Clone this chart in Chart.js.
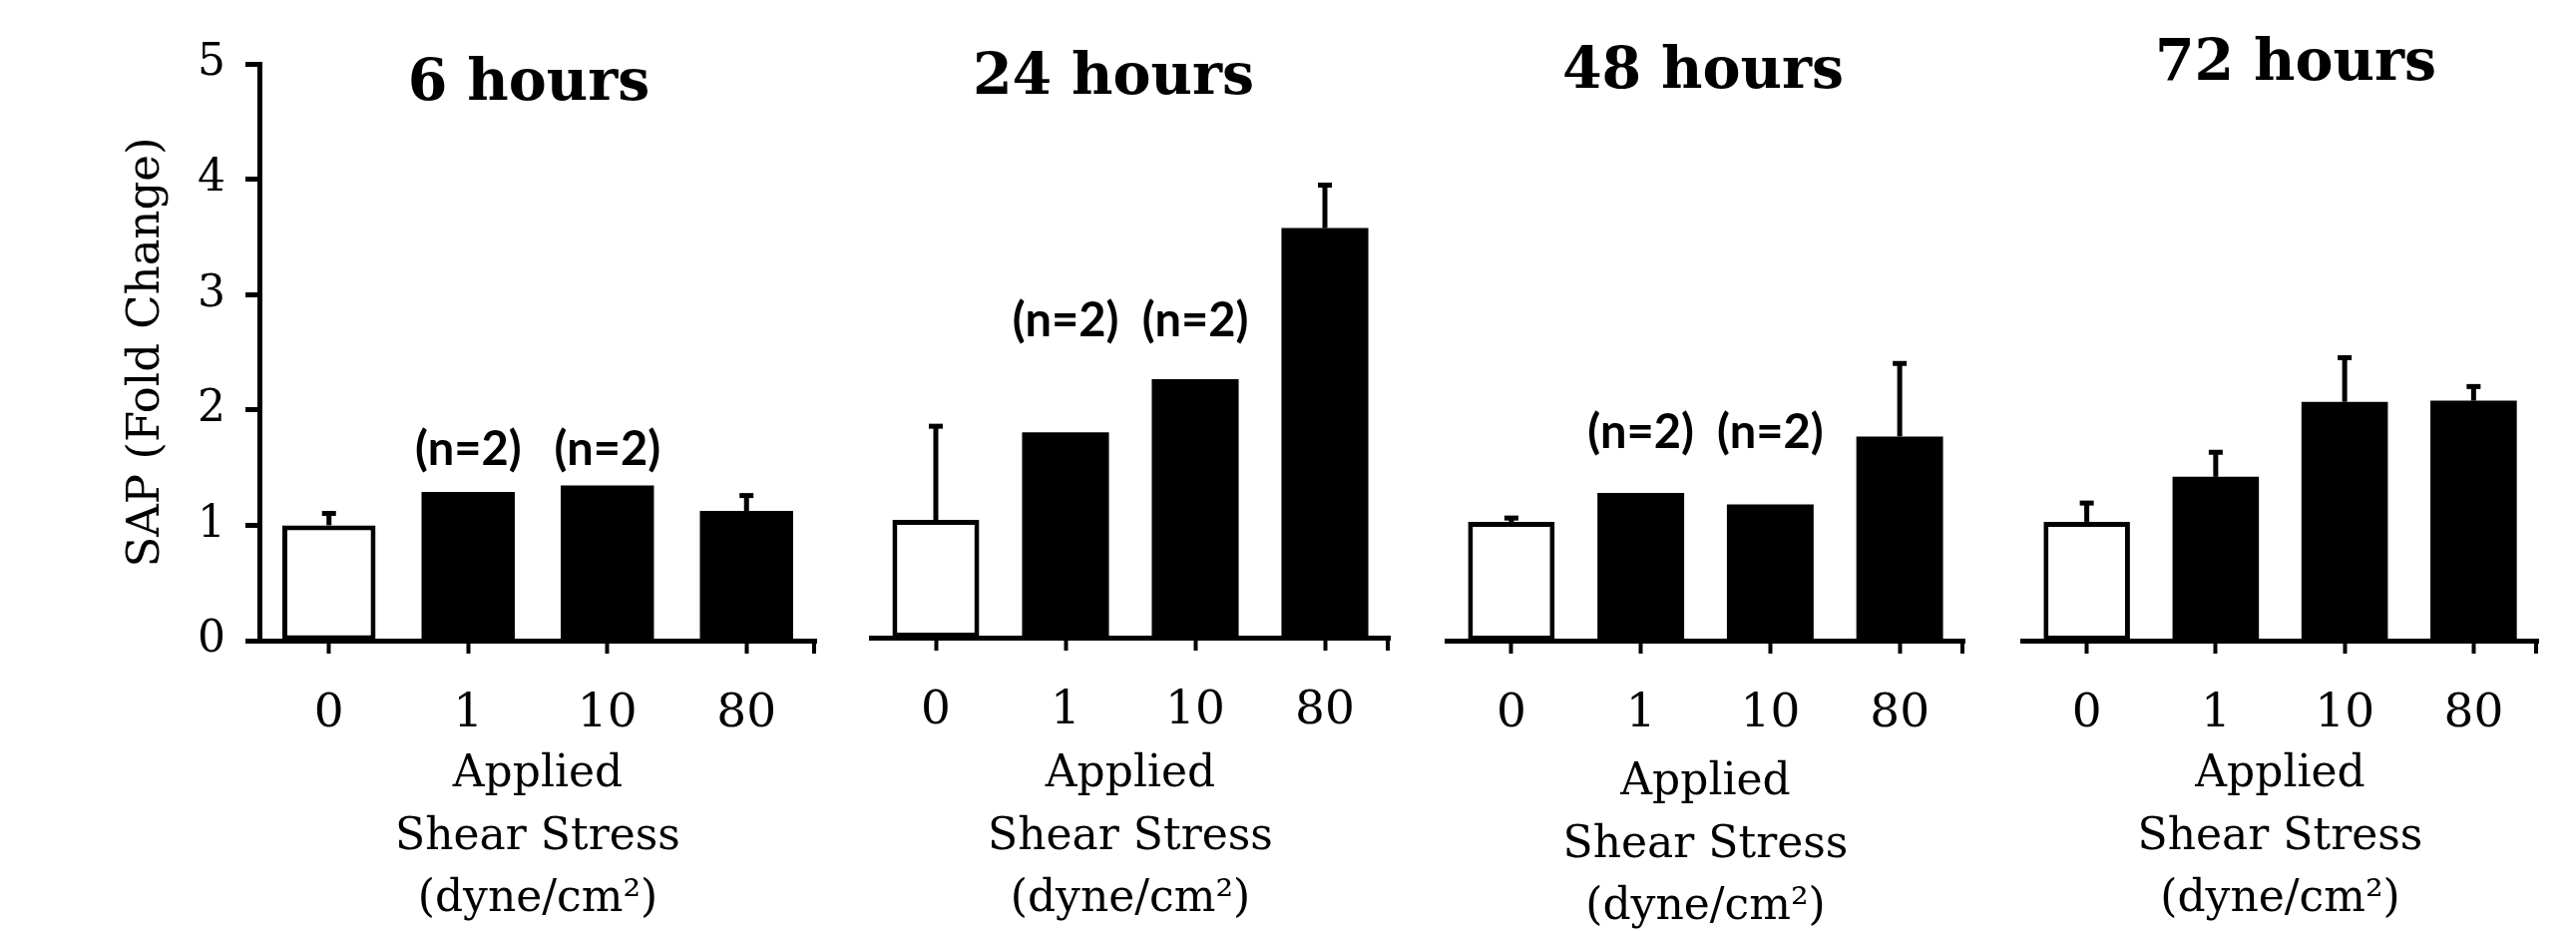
<!DOCTYPE html>
<html>
<head>
<meta charset="utf-8">
<script src="https://cdn.jsdelivr.net/npm/chart.js@4"></script>
<style>
  html, body { margin: 0; padding: 0; background: #fff; }
  #wrap { position: relative; width: 2582px; height: 933px; overflow: hidden; }
  #wrap canvas { position: absolute; top: 0; }
</style>
</head>
<body>
<div id="wrap">
  <canvas id="c6" width="840" height="933" style="left:0px"></canvas>
  <canvas id="c24" width="580" height="933" style="left:840px"></canvas>
  <canvas id="c48" width="580" height="933" style="left:1420px"></canvas>
  <canvas id="c72" width="582" height="933" style="left:2000px"></canvas>
</div>
<script>
// data
const categories = ["0", "1", "10", "80"];
const panelTitles = ["6 hours", "24 hours", "48 hours", "72 hours"];
const yTicks = [0, 1, 2, 3, 4, 5];

const sap6 = [1.00, 1.29, 1.345, 1.125];
const sap24 = [1.02, 1.78, 2.24, 3.55];
const sap48 = [1.03, 1.28, 1.18, 1.77];
const sap72 = [1.03, 1.42, 2.07, 2.08];

// upper error bars (0 = none drawn)
const err6 = [0.12, 0, 0, 0.15];
const err24 = [0.83, 0, 0, 0.39];
const err48 = [0.05, 0, 0, 0.65];
const err72 = [0.18, 0.23, 0.40, 0.14];

const notes6 = ["", "(n=2)", "(n=2)", ""];
const notes24 = ["", "(n=2)", "(n=2)", ""];
const notes48 = ["", "(n=2)", "(n=2)", ""];
const notes72 = ["", "", "", ""];

const xTitle = ["Applied", "Shear Stress", "(dyne/cm²)"];
const yTitle = "SAP (Fold Change)";

const SERIF = "'DejaVu Serif', serif";
const NOTE_FONT = "bold 47px Lato, 'Open Sans', sans-serif";
const H = 933;

// page layout of each panel (page pixel coords)
const panels = [
    { id: "c6", left: 0, width: 840, title: panelTitles[0], values: sap6, errs: err6, notes: notes6,
      area: { left: 260, right: 818, top: 64, bottom: 642 }, titleAt: [530, 100], noteY: 1.52, showY: true, xDrop: 0 },
    { id: "c24", left: 840, width: 580, title: panelTitles[1], values: sap24, errs: err24, notes: notes24,
      area: { left: 873, right: 1393, top: 61, bottom: 639 }, titleAt: [1116, 94], noteY: 2.61, showY: false, xDrop: 0 },
    { id: "c48", left: 1420, width: 580, title: panelTitles[2], values: sap48, errs: err48, notes: notes48,
      area: { left: 1450, right: 1969, top: 64, bottom: 642 }, titleAt: [1707, 88], noteY: 1.67, showY: false, xDrop: 8 },
    { id: "c72", left: 2000, width: 582, title: panelTitles[3], values: sap72, errs: err72, notes: notes72,
      area: { left: 2027, right: 2544, top: 64, bottom: 642 }, titleAt: [2301, 80], noteY: 0, showY: false, xDrop: 0 }
];

Chart.defaults.color = "#000";
Chart.defaults.animation = false;

// titles, (n=2) notes, error bars and the end tick of the x axis
function decoPlugin(p) {
    return {
        id: "deco",
        afterDatasetsDraw(chart) {
            const ctx = chart.ctx, y = chart.scales.y;
            const meta = chart.getDatasetMeta(0);
            ctx.save();
            ctx.strokeStyle = "#000";
            ctx.lineWidth = 5;
            p.errs.forEach((e, i) => {
                if (!e) return;
                const x = meta.data[i].x;
                const y0 = y.getPixelForValue(p.values[i]);
                const y1 = y.getPixelForValue(p.values[i] + e);
                ctx.beginPath();
                ctx.moveTo(x, y0);
                ctx.lineTo(x, y1 + 2);
                ctx.stroke();
                ctx.beginPath();
                ctx.moveTo(x - 7, y1 + 2);
                ctx.lineTo(x + 7, y1 + 2);
                ctx.stroke();
            });
            // right end tick
            const a = chart.chartArea;
            ctx.lineWidth = 4;
            ctx.beginPath();
            ctx.moveTo(a.right - 2, a.bottom);
            ctx.lineTo(a.right - 2, a.bottom + 13);
            ctx.stroke();
            ctx.restore();
        },
        afterDraw(chart) {
            const ctx = chart.ctx, y = chart.scales.y;
            const meta = chart.getDatasetMeta(0);
            ctx.save();
            ctx.fillStyle = "#000";
            ctx.textAlign = "center";
            ctx.textBaseline = "alphabetic";
            ctx.font = "bold 57px " + SERIF;
            ctx.fillText(p.title, p.titleAt[0] - p.left, p.titleAt[1]);
            ctx.font = NOTE_FONT;
            p.notes.forEach((t, i) => {
                if (t) ctx.fillText(t, meta.data[i].x, y.getPixelForValue(p.noteY));
            });
            ctx.restore();
        }
    };
}

panels.forEach((p) => {
    const ctx = document.getElementById(p.id).getContext("2d");
    const yWidth = p.area.left - p.left;
    new Chart(ctx, {
        type: "bar",
        data: {
            labels: categories,
            datasets: [{
                data: p.values,
                backgroundColor: ["#fff", "#000", "#000", "#000"],
                borderColor: "#000",
                borderWidth: [5, 0, 0, 0],
                borderSkipped: false,
                barPercentage: 0.67,
                categoryPercentage: 1.0
            }]
        },
        options: {
            responsive: false,
            layout: {
                padding: {
                    left: p.showY ? 0 : yWidth,
                    right: p.width - (p.area.right - p.left),
                    top: p.area.top,
                    bottom: 0
                }
            },
            plugins: { legend: { display: false }, tooltip: { enabled: false }, title: { display: false } },
            scales: {
                x: {
                    offset: true,
                    afterFit: (s) => { s.height = H - p.area.bottom; },
                    grid: { offset: false, drawOnChartArea: false, tickLength: 13, tickWidth: 4, tickColor: "#000" },
                    border: { display: true, color: "#000", width: 5 },
                    ticks: { font: { family: SERIF, size: 47 }, padding: 33, color: "#000" },
                    title: {
                        display: true, text: xTitle, color: "#000",
                        font: { family: SERIF, size: 44, lineHeight: 1.42 },
                        padding: { top: 0, bottom: -p.xDrop }
                    }
                },
                y: {
                    display: p.showY,
                    min: 0, max: 5,
                    afterBuildTicks: (s) => { s.ticks = yTicks.map((v) => ({ value: v })); },
                    afterFit: (s) => { if (p.showY) s.width = yWidth; },
                    grid: { drawOnChartArea: false, tickLength: 14, tickWidth: 5, tickColor: "#000" },
                    border: { display: true, color: "#000", width: 5 },
                    ticks: { font: { family: SERIF, size: 44 }, padding: 20, color: "#000" },
                    title: {
                        display: true, text: yTitle, color: "#000",
                        font: { family: SERIF, size: 45, lineHeight: 1.2 },
                        padding: { top: 120, bottom: 0 }
                    }
                }
            }
        },
        plugins: [decoPlugin(p)]
    });
});
</script>
</body>
</html>
